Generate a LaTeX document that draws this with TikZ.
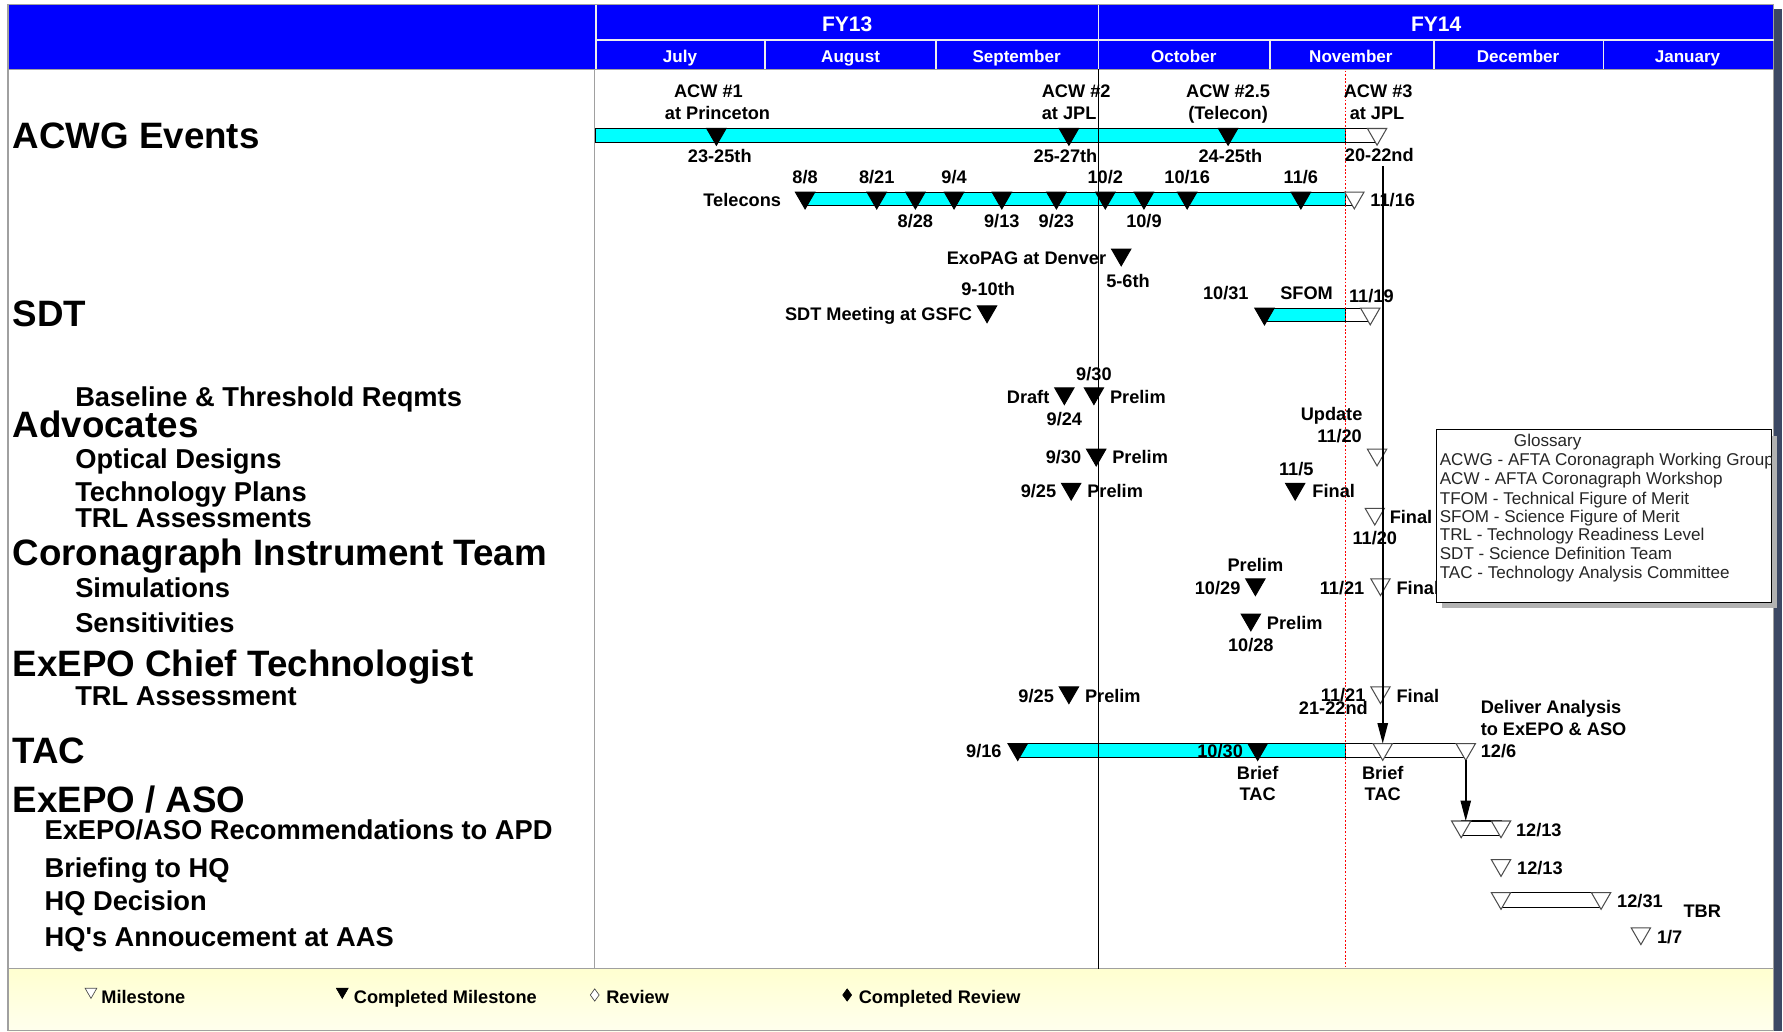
\documentclass[tikz,border=0pt]{standalone}
\usepackage{fontspec}
\setmainfont{Liberation Sans}
\usetikzlibrary{shapes.geometric,arrows.meta}
\definecolor{hdrblue}{RGB}{0,0,255}
\definecolor{barcyan}{RGB}{0,255,255}
\definecolor{legtop}{RGB}{255,255,208}
\definecolor{legbot}{RGB}{255,255,238}
\definecolor{shadowblue}{RGB}{60,72,100}
\definecolor{framegray}{RGB}{160,160,160}
\begin{document}
\begin{tikzpicture}[x=1pt,y=-1pt,
  ms/.style={regular polygon, regular polygon sides=3, regular polygon rotate=180,
    minimum size=19.6pt, inner sep=0pt, outer sep=0pt, anchor=north,
    draw=black!70, line width=0.9pt, fill=white},
  cms/.style={ms, fill=black, draw=black},
  lms/.style={ms, minimum size=12pt, line width=0.6pt},
  lcms/.style={lms, fill=black, draw=black},
  ldia/.style={diamond, minimum width=8pt, minimum height=11pt, inner sep=0pt,
    draw=black!70, line width=0.6pt, fill=white},
  lcdia/.style={ldia, fill=black, draw=black},
  lb/.style={font=\fontsize{16}{18}\selectfont\bfseries, inner sep=0pt,
    text height=11.5pt, text depth=0pt},
  hd/.style={font=\fontsize{32.3}{38}\selectfont\bfseries, inner sep=0pt,
    text height=23.1pt, text depth=0pt, anchor=west},
  sub/.style={font=\fontsize{24}{28}\selectfont\bfseries, inner sep=0pt,
    text height=17.2pt, text depth=0pt, anchor=west},
  fy/.style={text=white, font=\fontsize{18.5}{20}\selectfont\bfseries,
    inner sep=0pt, text height=13.2pt, text depth=0pt},
  mon/.style={text=white, font=\fontsize{15}{17}\selectfont\bfseries,
    inner sep=0pt, text height=10.7pt, text depth=0pt},
  gl/.style={font=\fontsize{15}{17}\selectfont, text=black!85, inner sep=0pt,
    text height=10.8pt, text depth=0pt, anchor=west},
  lgt/.style={font=\fontsize{16}{18}\selectfont\bfseries, inner sep=0pt,
    text height=11.5pt, text depth=0pt, anchor=west},
  bar/.style={draw=black, line width=1pt},
  arr/.style={draw=black, line width=1.6pt, -{Triangle[length=18pt,width=9pt]}}
]
\useasboundingbox (0,0) rectangle (1568,907);

% ---------- frame ----------
\fill[shadowblue] (1560,8) rectangle (1567,907);
\fill[white] (7,61) rectangle (1560,852);
\shade[top color=legtop, bottom color=legbot] (7,852) rectangle (1560,907);
\draw[framegray, line width=1pt] (7,61) rectangle (1560,852);
\draw[framegray, line width=1pt] (7,852) rectangle (1560,906.5);
\draw[framegray, line width=1pt] (523,61) -- (523,852);

% ---------- header ----------
\fill[hdrblue] (7,4) rectangle (1560,61);
\draw[framegray, line width=1pt] (7,4) rectangle (1560,61);
\draw[white!85!gray, line width=1.4pt] (524,4) -- (524,61) (966,4) -- (966,61)
  (524,35) -- (1560,35)
  (673,35) -- (673,61) (823,35) -- (823,61) (1117,35) -- (1117,61)
  (1261,35) -- (1261,61) (1410,35) -- (1410,61);
\node[fy] (fy13) at (745,21) {FY13};
\node[fy] (fy14) at (1263,21) {FY14};
\node[mon] (mjul) at (598,50) {July};
\node[mon] (maug) at (748,50) {August};
\node[mon] (msep) at (894,50) {September};
\node[mon] (moct) at (1041,50) {October};
\node[mon] (mnov) at (1188,50) {November};
\node[mon] (mdec) at (1335,50) {December};
\node[mon] (mjan) at (1484,50) {January};

% ---------- row labels ----------
\node[hd] (hacwg) at (11,119) {ACWG Events};
\node[hd] (hsdt) at (11,276) {SDT};
\node[sub] (sbase) at (66,349) {Baseline \& Threshold Reqmts};
\node[hd] (hadv) at (11,373) {Advocates};
\node[sub] (sopt) at (66,403) {Optical Designs};
\node[sub] (stech) at (66,432) {Technology Plans};
\node[sub] (strls) at (66,455) {TRL Assessments};
\node[hd] (hcit) at (11,486) {Coronagraph Instrument Team};
\node[sub] (ssim) at (66,517) {Simulations};
\node[sub] (ssen) at (66,548) {Sensitivities};
\node[hd] (hect) at (11,583) {ExEPO Chief Technologist};
\node[sub] (strl) at (66,612) {TRL Assessment};
\node[hd] (htac) at (11,660) {TAC};
\node[hd] (haso) at (11,703) {ExEPO / ASO};
\node[sub] (srec) at (39,730) {ExEPO/ASO Recommendations to APD};
\node[sub] (sbrf) at (39,763) {Briefing to HQ};
\node[sub] (sdec) at (39,792) {HQ Decision};
\node[sub] (sann) at (39,824) {HQ\textquotesingle s Annoucement at AAS};

% ---------- bars ----------
\draw[bar, fill=barcyan] (524,113) rectangle (1183,125);
\draw[bar, fill=white] (1183,113) rectangle (1211,125);
\draw[bar, fill=barcyan] (708,169) rectangle (1183,181);
\draw[bar, fill=white] (1183,169) rectangle (1191,181);
\draw[bar, fill=barcyan] (1112,271) rectangle (1183,283);
\draw[bar, fill=white] (1183,271) rectangle (1205,283);
\draw[bar, fill=barcyan] (895,654) rectangle (1183,666);
\draw[bar, fill=white] (1183,654) rectangle (1289,666);
\draw[bar, fill=white] (1285,722) rectangle (1320,735);
\draw[bar, fill=white] (1320,785) rectangle (1408,798);

% ---------- vertical lines ----------
\draw[black, line width=1.2pt] (966,61) -- (966,852);
\draw[red, line width=1.1pt, dash pattern=on 1.6pt off 1.6pt] (1183,62) -- (1183,851);

% ---------- ACWG events ----------
\node[cms] (acw1) at (630,113) {};
\node[cms] (acw2) at (940,113) {};
\node[cms] (acw25) at (1080,113) {};
\node[ms] (acw3) at (1211,113) {};
\node[lb] (tacw1a) at (623,80) {ACW \#1};
\node[lb] (tacw1b) at (631,99) {at Princeton};
\node[lb] (tacw1c) at (633,137) {23-25th};
\node[lb, anchor=west] (tacw2a) at (916,80) {ACW \#2};
\node[lb, anchor=west] (tacw2b) at (916,99) {at JPL};
\node[lb] (tacw2c) at (937,137) {25-27th};
\node[lb] (tacw25a) at (1080,80) {ACW \#2.5};
\node[lb] (tacw25b) at (1080,99) {(Telecon)};
\node[lb] (tacw25c) at (1082,137) {24-25th};
\node[lb] (tacw3a) at (1212,80) {ACW \#3};
\node[lb] (tacw3b) at (1211,99) {at JPL};
\node[lb] (tacw3c) at (1213,136) {20-22nd};

% ---------- telecons ----------
\node[cms] (tc1) at (708,169) {};
\node[cms] (tc2) at (771,169) {};
\node[cms] (tc3) at (805,169) {};
\node[cms] (tc4) at (839,169) {};
\node[cms] (tc5) at (881,169) {};
\node[cms] (tc6) at (929,169) {};
\node[cms] (tc7) at (972,169) {};
\node[cms] (tc8) at (1006,169) {};
\node[cms] (tc9) at (1044,169) {};
\node[cms] (tc10) at (1144,169) {};
\node[ms] (tc11) at (1191,169) {};
\node[lb, anchor=east] (ttel) at (687,176) {Telecons};
\node[lb] (ttc1) at (708,156) {8/8};
\node[lb] (ttc2) at (771,156) {8/21};
\node[lb] (ttc4) at (839,156) {9/4};
\node[lb] (ttc7) at (972,156) {10/2};
\node[lb] (ttc9) at (1044,156) {10/16};
\node[lb] (ttc10) at (1144,156) {11/6};
\node[lb] (ttc3) at (805,194) {8/28};
\node[lb] (ttc5) at (881,194) {9/13};
\node[lb] (ttc6) at (929,194) {9/23};
\node[lb] (ttc8) at (1006,194) {10/9};
\node[lb, anchor=west] (ttc11) at (1205,176) {11/16};

% ---------- ExoPAG / SDT ----------
\node[cms] (exo) at (986,219) {};
\node[lb, anchor=east] (texo) at (973,227) {ExoPAG at Denver};
\node[lb] (texod) at (992,247) {5-6th};
\node[cms] (sdtm) at (868,269) {};
\node[lb] (tsdtd) at (869,254) {9-10th};
\node[lb, anchor=east] (tsdt) at (855,276) {SDT Meeting at GSFC};
\node[cms] (sf1) at (1112,271) {};
\node[ms] (sf2) at (1205,271) {};
\node[lb] (tsf1) at (1078,258) {10/31};
\node[lb] (tsf) at (1149,258) {SFOM};
\node[lb] (tsf2) at (1206,260) {11/19};

% ---------- Advocates ----------
\node[cms] (bs1) at (936,341) {};
\node[cms] (bs2) at (962,341) {};
\node[lb] (tbs2d) at (962,329) {9/30};
\node[lb, anchor=east] (tbs1) at (923,349) {Draft};
\node[lb, anchor=west] (tbs2) at (976,349) {Prelim};
\node[lb] (tbs1d) at (936,368) {9/24};
\node[ms] (bs3) at (1211,395) {};
\node[lb] (tbs3a) at (1171,364) {Update};
\node[lb] (tbs3b) at (1178,383) {11/20};
\node[cms] (op1) at (964,395) {};
\node[lb, anchor=east] (top1d) at (951,402) {9/30};
\node[lb, anchor=west] (top1) at (978,402) {Prelim};
\node[cms] (tp1) at (942,425) {};
\node[lb, anchor=east] (ttp1d) at (929,432) {9/25};
\node[lb, anchor=west] (ttp1) at (956,432) {Prelim};
\node[cms] (tp2) at (1139,425) {};
\node[lb] (ttp2d) at (1140,412) {11/5};
\node[lb, anchor=west] (ttp2) at (1154,432) {Final};
\node[ms] (tr1) at (1209,447) {};
\node[lb, anchor=west] (ttr1) at (1222,455) {Final};
\node[lb] (ttr1d) at (1209,473) {11/20};

% ---------- Coronagraph Instrument Team ----------
\node[cms] (si1) at (1104,509) {};
\node[lb] (tsi1) at (1104,497) {Prelim};
\node[lb, anchor=east] (tsi1d) at (1091,517) {10/29};
\node[ms] (si2) at (1214,509) {};
\node[lb, anchor=east] (tsi2d) at (1200,517) {11/21};
\node[lb, anchor=west] (tsi2) at (1228,517) {Final};
\node[cms] (se1) at (1100,540) {};
\node[lb, anchor=west] (tse1) at (1114,548) {Prelim};
\node[lb] (tse1d) at (1100,567) {10/28};

% ---------- ExEPO Chief Technologist ----------
\node[cms] (ta1) at (940,604) {};
\node[lb, anchor=east] (tta1d) at (927,612) {9/25};
\node[lb, anchor=west] (tta1) at (954,612) {Prelim};
\node[ms] (ta2) at (1214,604) {};
\node[lb, anchor=east] (tta2d) at (1201,611) {11/21};
\node[lb, anchor=west] (tta2) at (1228,612) {Final};
\node[lb, anchor=east] (tta2e) at (1203,623) {21-22nd};

% ---------- TAC ----------
\node[cms] (tac1) at (895,654) {};
\node[cms] (tac2) at (1106,654) {};
\node[ms] (tacb) at (1216,654) {};
\node[ms] (tac126) at (1289,654) {};
\node[lb, anchor=east] (ttac1) at (881,660) {9/16};
\node[lb] (ttac2) at (1073,660) {10/30};
\node[lb] (ttac2a) at (1106,680) {Brief};
\node[lb] (ttac2b) at (1106,698) {TAC};
\node[lb] (ttacba) at (1216,680) {Brief};
\node[lb] (ttacbb) at (1216,698) {TAC};
\node[lb, anchor=west] (tdel1) at (1302,622) {Deliver Analysis};
\node[lb, anchor=west] (tdel2) at (1302,641) {to ExEPO \& ASO};
\node[lb, anchor=west] (tdel3) at (1302,660) {12/6};

% ---------- ExEPO / ASO ----------
\node[ms] (rec1) at (1285,722) {};
\node[ms] (rec2) at (1320,722) {};
\node[lb, anchor=west] (trec) at (1333,730) {12/13};
\node[ms] (brf) at (1320,756) {};
\node[lb, anchor=west] (tbrf) at (1334,763) {12/13};
\node[ms] (dec1) at (1320,785) {};
\node[ms] (dec2) at (1408,785) {};
\node[lb, anchor=west] (tdec) at (1422,792) {12/31};
\node[lb] (ttbr) at (1497,801) {TBR};
\node[ms] (ann) at (1443,816) {};
\node[lb, anchor=west] (tann) at (1457,824) {1/7};

% ---------- arrows ----------
\coordinate (arrtop) at (1216,146);
\draw[arr] (arrtop) -- (tacb.north);
\draw[arr] (tac126.south) -- (tac126.south |- rec1.north);

% ---------- glossary ----------
\fill[black!30] (1268,383) rectangle (1563,535);
\draw[black, fill=white, line width=1pt] (1263,378) rectangle (1558,530);
\begin{scope}
\clip (1263.5,378.5) rectangle (1557.5,529.5);
\node[gl, anchor=center] (gtitle) at (1361,387) {Glossary};
\node[gl] (g1) at (1266,404) {ACWG - AFTA Coronagraph Working Group};
\node[gl] (g2) at (1266,421) {ACW - AFTA Coronagraph Workshop};
\node[gl] (g3) at (1266,438) {TFOM - Technical Figure of Merit};
\node[gl] (g4) at (1266,454) {SFOM - Science Figure of Merit};
\node[gl] (g5) at (1266,470) {TRL - Technology Readiness Level};
\node[gl] (g6) at (1266,487) {SDT - Science Definition Team};
\node[gl] (g7) at (1266,503) {TAC - Technology Analysis Committee};
\end{scope}

% ---------- legend ----------
\node[lms] (lm1) at (80,869) {};
\node[lgt] (tlm1) at (89,877) {Milestone};
\node[lcms] (lm2) at (301,869) {};
\node[lgt] (tlm2) at (311,877) {Completed Milestone};
\node[ldia] (lm3) at (523,875) {};
\node[lgt] (tlm3) at (533,877) {Review};
\node[lcdia] (lm4) at (745,875) {};
\node[lgt] (tlm4) at (755,877) {Completed Review};
\end{tikzpicture}
\end{document}
